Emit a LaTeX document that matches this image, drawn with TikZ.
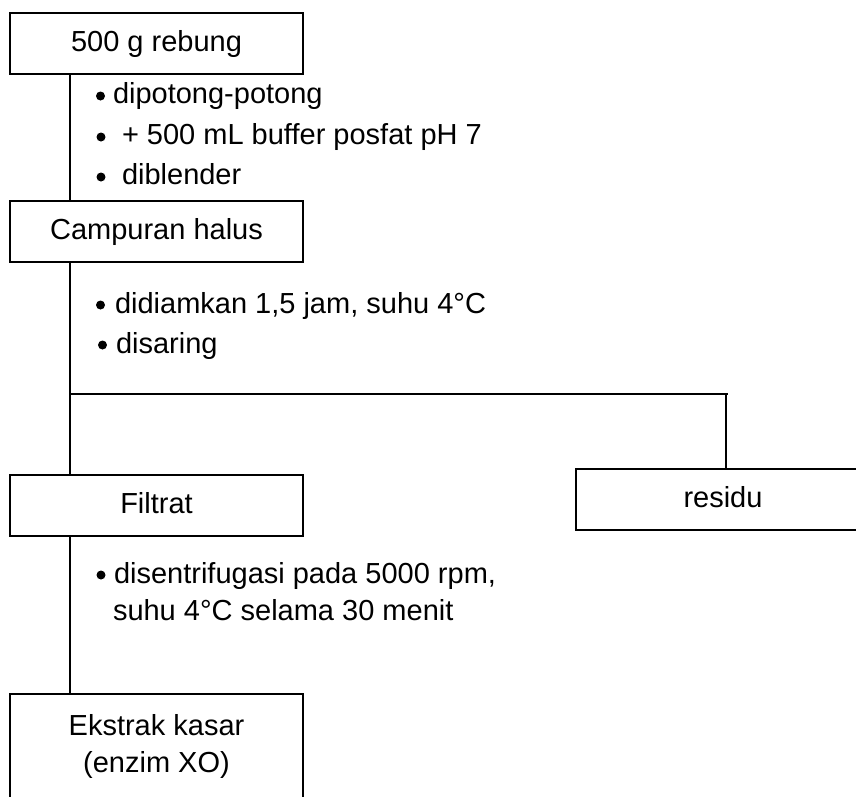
\documentclass[tikz,border=0pt]{standalone}
\usepackage{fontspec}
\setmainfont{Liberation Sans}
\begin{document}
\begin{tikzpicture}[x=1pt,y=-1pt,
  every node/.style={font=\fontsize{29pt}{37pt}\selectfont},
  stage/.style={draw,line width=1.7pt,rectangle,inner sep=0pt,outer sep=0pt,
    minimum width=293pt,minimum height=61pt,text height=16pt,text depth=0pt},
  stagetall/.style={draw,line width=1.7pt,rectangle,inner sep=0pt,outer sep=0pt,
    minimum width=293pt,minimum height=104pt,align=center},
  item/.style={anchor=base west,inner sep=0pt,outer sep=0pt},
  dot/.style={circle,fill=black,inner sep=0pt,minimum size=9pt},
  link/.style={line width=1.7pt}]
\clip (0,0) rectangle (856,796);

% process stages
\node[stage] (rebung) at (156.5,43.5) {500 g rebung};
\node[stage] (campuran) at (156.5,231.5) {Campuran halus};
\node[stage] (filtrat) at (156.5,505.5) {Filtrat};
\node[stage,minimum width=294pt] (residu) at (723,499.5) {residu};
\node[stagetall,anchor=north] (ekstrak) at (156.5,694) {Ekstrak kasar\\(enzim XO)};

% main line and the branch to the residue
\coordinate (spine) at (70,0);
\coordinate (split) at (70,394);
\coordinate (branch) at (726,394);
\draw[link] (rebung.south -| spine) -- (campuran.north -| spine);
\draw[link] (campuran.south -| spine) -- (filtrat.north -| spine);
\draw[link] (split) -- ([xshift=2pt]branch);
\draw[link] (branch) -- (residu.north -| branch);
\draw[link] (filtrat.south -| spine) -- (ekstrak.north -| spine);

% step notes
\node[dot] (d1) at (100.5,96) {};
\node[item] (s1) at (113,103) {dipotong-potong};
\node[dot] (d2) at (101,137) {};
\node[item] (s2) at (122,144) {+ 500 mL buffer posfat pH 7};
\node[dot] (d3) at (101,177) {};
\node[item] (s3) at (122,184) {diblender};

\node[dot] (d4) at (100.5,305) {};
\node[item] (s4) at (115,313) {didiamkan 1,5 jam, suhu 4°C};
\node[dot] (d5) at (102.5,345) {};
\node[item] (s5) at (116,353) {disaring};

\node[dot] (d6) at (101,575) {};
\node[item] (s6) at (114,583) {disentrifugasi pada 5000 rpm,};
\node[item] (s7) at (113,620) {suhu 4°C selama 30 menit};
\end{tikzpicture}
\end{document}
